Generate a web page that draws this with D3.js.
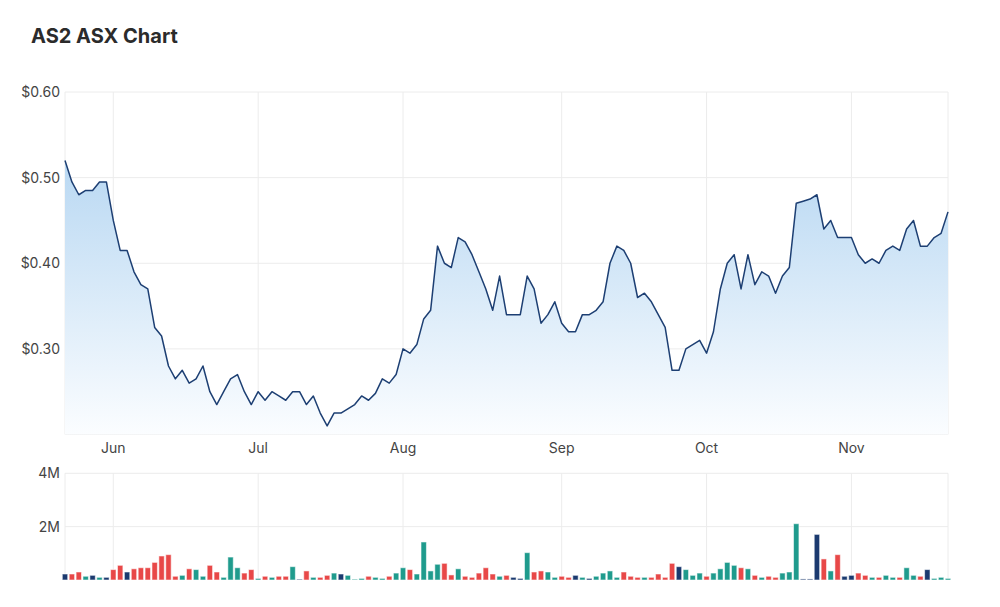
<!DOCTYPE html>
<html>
<head>
<meta charset="utf-8">
<script src="https://cdn.jsdelivr.net/npm/d3@7"></script>
<style>
  body { margin: 0; background: #fff; }
  svg text { font-family: Inter, "Noto Sans", sans-serif; }
</style>
</head>
<body>
<svg id="chart" width="1000" height="607"></svg>
<script>
// daily closes, one per trading day (23 May .. 21 Nov)
var prices = [
  0.52, 0.495, 0.48, 0.485, 0.485, 0.495, 0.495, 0.45, 0.415, 0.415,
  0.39, 0.375, 0.37, 0.325, 0.315, 0.28, 0.265, 0.275, 0.26, 0.265,
  0.28, 0.25, 0.235, 0.25, 0.265, 0.27, 0.25, 0.235, 0.25, 0.24,
  0.25, 0.245, 0.24, 0.25, 0.25, 0.235, 0.245, 0.225, 0.21, 0.225,
  0.225, 0.23, 0.235, 0.245, 0.24, 0.248, 0.265, 0.26, 0.27, 0.30,
  0.295, 0.305, 0.335, 0.345, 0.42, 0.40, 0.395, 0.43, 0.425, 0.41,
  0.39, 0.37, 0.345, 0.385, 0.34, 0.34, 0.34, 0.385, 0.37, 0.33,
  0.34, 0.355, 0.33, 0.32, 0.32, 0.34, 0.34, 0.345, 0.355, 0.40,
  0.42, 0.415, 0.40, 0.36, 0.365, 0.355, 0.34, 0.325, 0.275, 0.275,
  0.30, 0.305, 0.31, 0.295, 0.32, 0.37, 0.40, 0.41, 0.37, 0.41,
  0.375, 0.39, 0.385, 0.365, 0.385, 0.395, 0.47, 0.4725, 0.475, 0.48,
  0.44, 0.45, 0.43, 0.43, 0.43, 0.41, 0.40, 0.405, 0.40, 0.415,
  0.42, 0.415, 0.44, 0.45, 0.42, 0.42, 0.43, 0.435, 0.46
];

// volume in millions of shares
var volumes = [
  0.225, 0.225, 0.30, 0.14, 0.175, 0.10, 0.10, 0.39, 0.55, 0.30,
  0.42, 0.46, 0.46, 0.66, 0.90, 0.95, 0.14, 0.175, 0.42, 0.39,
  0.14, 0.55, 0.30, 0.10, 0.86, 0.46, 0.26, 0.39, 0.06, 0.14,
  0.10, 0.14, 0.14, 0.50, 0.03, 0.34, 0.10, 0.10, 0.175, 0.26,
  0.225, 0.175, 0.03, 0.06, 0.14, 0.10, 0.06, 0.14, 0.26, 0.46,
  0.39, 0.225, 1.425, 0.34, 0.59, 0.625, 0.19, 0.42, 0.14, 0.10,
  0.26, 0.46, 0.225, 0.14, 0.175, 0.10, 0.06, 1.025, 0.30, 0.34,
  0.30, 0.10, 0.14, 0.10, 0.175, 0.10, 0.06, 0.14, 0.26, 0.34,
  0.10, 0.30, 0.14, 0.10, 0.10, 0.10, 0.225, 0.10, 0.625, 0.50,
  0.39, 0.175, 0.26, 0.14, 0.26, 0.42, 0.66, 0.55, 0.46, 0.42,
  0.175, 0.10, 0.14, 0.10, 0.26, 0.30, 2.11, 0.04, 0.04, 1.71,
  0.79, 0.34, 0.95, 0.14, 0.175, 0.26, 0.175, 0.10, 0.10, 0.175,
  0.10, 0.10, 0.46, 0.175, 0.14, 0.39, 0.06, 0.10, 0.06
];

// day move as shown by bar colour: 1 up, -1 down, 0 flat
var moves = [
  0, -1, -1, 1, 0, 1, 0, -1, -1, 0,
  -1, -1, -1, -1, -1, -1, -1, 1, -1, 1,
  1, -1, -1, 1, 1, 1, -1, -1, 1, -1,
  1, -1, -1, 1, 0, -1, 1, -1, -1, 1,
  0, 1, 1, 1, -1, 1, 1, -1, 1, 1,
  -1, 1, 1, 1, 1, -1, -1, 1, -1, -1,
  -1, -1, -1, 1, -1, 0, 0, 1, -1, -1,
  1, 1, -1, -1, 0, 1, 0, 1, 1, 1,
  1, -1, -1, -1, 1, -1, -1, -1, -1, 0,
  1, 1, 1, -1, 1, 1, 1, 1, -1, 1,
  -1, 1, -1, -1, 1, 1, 1, 0, 0, 0,
  -1, 1, -1, 0, 0, -1, -1, 1, -1, 1,
  1, -1, 1, 1, -1, 0, 1, 1, 1
];

// month labels and the trading-day index where each month starts
var monthLabels = ["Jun", "Jul", "Aug", "Sep", "Oct", "Nov"];
var monthIndex = [7, 28, 49, 72, 93, 114];

var priceTicks = [0.3, 0.4, 0.5, 0.6];
var volumeTicks = [2, 4];

var svg = d3.select("#chart");

var left = 65, right = 948;
var priceTop = 92, priceBottom = 434.5;
var volTop = 473.3, volBottom = 580;

var x = d3.scaleLinear().domain([0, prices.length - 1]).range([left, right]);
var y = d3.scaleLinear().domain([0.2, 0.6]).range([priceBottom, priceTop]);
var yv = d3.scaleLinear().domain([0, 4]).range([volBottom, volTop]);
var color = d3.scaleOrdinal().domain([1, -1, 0]).range(["#1f9b8d", "#e84848", "#1b3a6f"]);

svg.append("text")
  .attr("x", 31).attr("y", 43)
  .attr("font-size", 20).attr("font-weight", 700)
  .attr("fill", "#2b2b2b")
  .text("AS2 ASX Chart");

// gradient for the area fill
var grad = svg.append("defs").append("linearGradient")
  .attr("id", "areaFill")
  .attr("gradientUnits", "userSpaceOnUse")
  .attr("x1", 0).attr("x2", 0)
  .attr("y1", priceTop + 60).attr("y2", priceBottom);
grad.append("stop").attr("offset", "0%").attr("stop-color", "#b7d7f2");
grad.append("stop").attr("offset", "100%").attr("stop-color", "#fbfdff");

// grids
var grid = svg.append("g").attr("stroke", "#ececec").attr("stroke-width", 1);

grid.selectAll(".hp").data(priceTicks).enter().append("line")
  .attr("x1", left).attr("x2", right)
  .attr("y1", d => y(d)).attr("y2", d => y(d));

grid.selectAll(".hv").data(volumeTicks).enter().append("line")
  .attr("x1", left).attr("x2", right)
  .attr("y1", d => yv(d)).attr("y2", d => yv(d));

grid.selectAll(".vp").data(monthIndex).enter().append("line")
  .attr("x1", d => x(d)).attr("x2", d => x(d))
  .attr("y1", priceTop).attr("y2", priceBottom);

grid.selectAll(".vv").data(monthIndex).enter().append("line")
  .attr("x1", d => x(d)).attr("x2", d => x(d))
  .attr("y1", volTop).attr("y2", volBottom);

// plot borders
[[priceTop, priceBottom], [volTop, volBottom]].forEach(function(r) {
  grid.append("line").attr("x1", left).attr("x2", left).attr("y1", r[0]).attr("y2", r[1]);
  grid.append("line").attr("x1", right).attr("x2", right).attr("y1", r[0]).attr("y2", r[1]);
});
grid.append("line").attr("x1", left).attr("x2", right)
  .attr("y1", priceBottom).attr("y2", priceBottom);

// price area + line
var area = d3.area()
  .x((d, i) => x(i))
  .y0(priceBottom)
  .y1(d => y(d));

var line = d3.line()
  .x((d, i) => x(i))
  .y(d => y(d));

svg.append("path")
  .datum(prices)
  .attr("fill", "url(#areaFill)")
  .attr("d", area);

svg.append("path")
  .datum(prices)
  .attr("fill", "none")
  .attr("stroke", "#1d3f73")
  .attr("stroke-width", 1.5)
  .attr("stroke-linejoin", "round")
  .attr("d", line);

// volume bars
var bw = 5.4;
svg.append("g").selectAll("rect")
  .data(volumes)
  .enter()
  .append("rect")
  .attr("x", (d, i) => x(i) - bw / 2)
  .attr("width", bw)
  .attr("y", d => yv(d))
  .attr("height", d => volBottom - yv(d))
  .attr("fill", (d, i) => color(moves[i]))
  .attr("stroke", "#ffffff")
  .attr("stroke-opacity", 0.55)
  .attr("stroke-width", 1);

// axis labels
var labels = svg.append("g").attr("font-size", 14).attr("fill", "#444");

labels.selectAll(".py").data(priceTicks).enter().append("text")
  .attr("x", 60).attr("y", d => y(d))
  .attr("dy", "0.35em")
  .attr("text-anchor", "end")
  .text(d => d3.format("$.2f")(d));

labels.selectAll(".vy").data(volumeTicks).enter().append("text")
  .attr("x", 60).attr("y", d => yv(d))
  .attr("dy", "0.35em")
  .attr("text-anchor", "end")
  .text(d => d + "M");

labels.selectAll(".mx").data(monthIndex).enter().append("text")
  .attr("x", d => x(d)).attr("y", 448)
  .attr("dy", "0.35em")
  .attr("text-anchor", "middle")
  .text((d, i) => monthLabels[i]);
</script>
</body>
</html>
